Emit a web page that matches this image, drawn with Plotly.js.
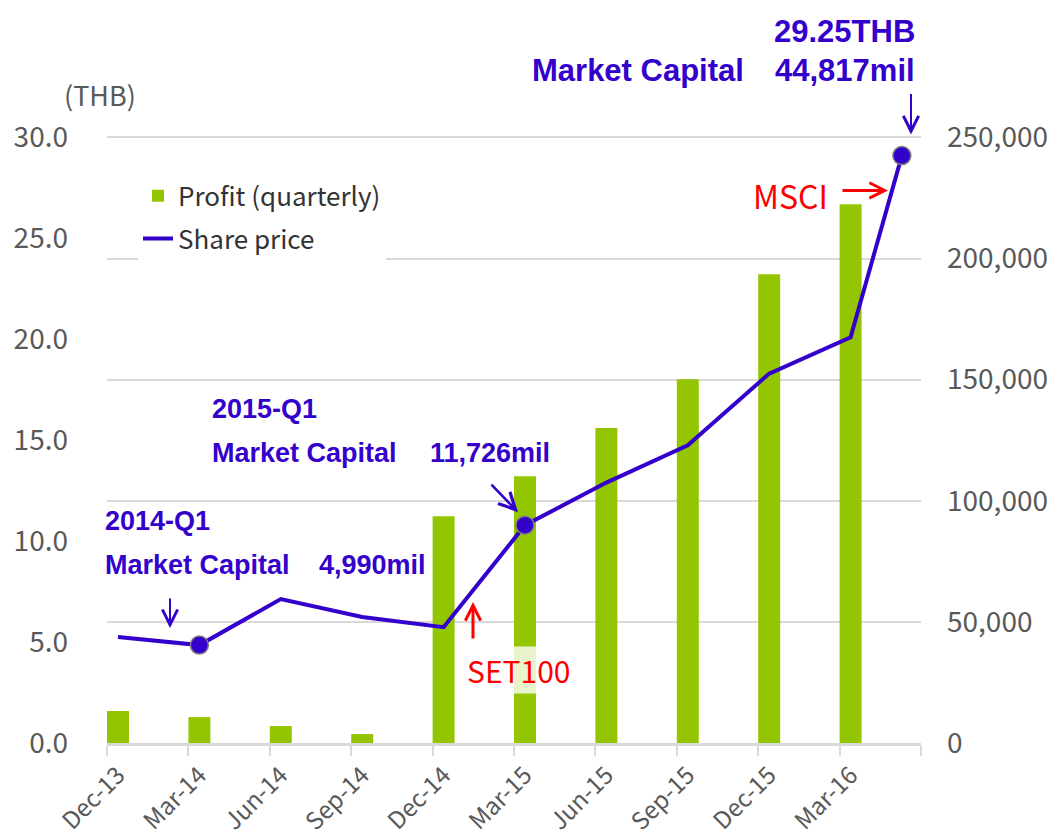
<!DOCTYPE html>
<html>
<head>
<meta charset="utf-8">
<script src="https://cdn.plot.ly/plotly-3.0.1.min.js"></script>
<style>html,body{margin:0;padding:0;background:#fff;}#chart{width:1052px;height:837px;}</style>
</head>
<body>
<div id="chart"></div>
<script>
// ---- data ----
const categories = ['Dec-13','Mar-14','Jun-14','Sep-14','Dec-14','Mar-15','Jun-15','Sep-15','Dec-15','Mar-16'];
const profit = [13200, 10700, 7000, 3700, 93600, 110100, 130000, 150200, 193500, 222400];
// share price observations; last one falls between Mar-16 and Jun-16
const priceX = [0, 1, 2, 3, 4, 5, 6, 7, 8, 9, 9.63];
const price = [5.25, 4.85, 7.13, 6.24, 5.74, 10.79, 12.9, 14.75, 18.3, 20.1, 29.1];
const highlighted = [1, 5, 10];
const leftTicks = [0, 5, 10, 15, 20, 25, 30];
const rightTicks = [0, 50000, 100000, 150000, 200000, 250000];

// ---- geometry helpers (pixel -> paper) ----
const L = 107, R = 921, T0 = 137, B = 743, W = R - L;
const EXT = 1.004;                       // small head-room so the top gridline is drawn
const H = (B - T0) * EXT, T = B - H;
const X = p => (p - L) / W;
const Y = p => (B - p) / H;

const BLUE = '#3300cc', GREEN = '#93c500', RED = '#ff0000', GRAY = '#595959';
const tickFont = {family: 'Noto Sans CJK KR, Noto Sans, sans-serif', size: 28, color: GRAY};
const xTickFont = {family: 'Noto Sans CJK KR, Noto Sans, sans-serif', size: 24, color: GRAY};
const boldFont = s => ({family: 'Liberation Sans, Arial, sans-serif', size: s, color: BLUE, weight: 'bold'});
const redFont = s => ({family: 'Noto Sans CJK KR, Noto Sans, sans-serif', size: s, color: RED});

const catIdx = categories.map((c, i) => i);

const traces = [
  {type: 'bar', x: catIdx, y: profit, width: 0.27, marker: {color: GREEN},
   name: 'Profit (quarterly)', yaxis: 'y', legendgroup: 'a', hoverinfo: 'skip'},
  {type: 'scatter', mode: 'lines', x: priceX, y: price, yaxis: 'y2',
   line: {color: BLUE, width: 4}, name: 'Share price', legendgroup: 'b', hoverinfo: 'skip'},
  {type: 'scatter', mode: 'markers', x: highlighted.map(i => priceX[i]), y: highlighted.map(i => price[i]),
   yaxis: 'y2', marker: {color: BLUE, size: 18, line: {color: '#7f7f7f', width: 1.5}},
   showlegend: false, hoverinfo: 'skip'}
];

function txt(text, x, y, anchor, font, extra) {
  return Object.assign({text: text, xref: 'paper', yref: 'paper', x: X(x), y: Y(y),
    xanchor: anchor, yanchor: 'middle', showarrow: false, font: font}, extra || {});
}
function arrow(hx, hy, ax, ay, color, width, size) {
  return {text: '', xref: 'paper', yref: 'paper', x: X(hx), y: Y(hy), ax: ax, ay: ay,
    showarrow: true, arrowhead: 5, arrowsize: size, arrowwidth: width, arrowcolor: color, standoff: 0, startstandoff: 0};
}

const annotations = [
  txt('(THB)', 62, 94, 'left', {family: 'Noto Sans CJK KR, Noto Sans, sans-serif', size: 27, color: GRAY}),
  txt('29.25THB', 917, 31, 'right', boldFont(31)),
  txt('Market Capital', 530, 70, 'left', boldFont(31)),
  txt('44,817mil', 917, 70, 'right', boldFont(31)),
  txt('2015-Q1', 210, 409, 'left', boldFont(27)),
  txt('Market Capital', 210, 453, 'left', boldFont(27)),
  txt('11,726mil', 428, 453, 'left', boldFont(27)),
  txt('2014-Q1', 103, 521, 'left', boldFont(27)),
  txt('Market Capital', 103, 565, 'left', boldFont(27)),
  txt('4,990mil', 317, 565, 'left', boldFont(27)),
  txt('SET100', 465, 670, 'left', redFont(30), {bgcolor: 'rgba(255,255,255,0.8)'}),
  txt('MSCI', 751, 195, 'left', redFont(32)),
  arrow(911, 134, 0, -42, BLUE, 2, 1.5),
  arrow(170, 628, 0, -31, BLUE, 2, 1.5),
  arrow(518, 512, -28, -29, BLUE, 2.5, 1.3),
  arrow(473, 602, 0, 38, RED, 3, 1),
  arrow(888, 190, -47, 0, RED, 3, 1)
];

const layout = {
  width: 1052, height: 837,
  margin: {l: L, r: 1052 - R, t: T, b: 837 - B, pad: 0},
  paper_bgcolor: '#fff', plot_bgcolor: '#fff',
  showlegend: true,
  legend: {x: X(138), y: Y(172), xanchor: 'left', yanchor: 'top', bgcolor: '#fff',
    font: {family: 'Noto Sans CJK KR, Noto Sans, sans-serif', size: 26, color: '#333'},
    tracegroupgap: 6, traceorder: 'grouped'},
  xaxis: {range: [-0.135, 9.865], tickmode: 'array', tickvals: catIdx, ticktext: categories,
    tickangle: -45, ticks: '', tickfont: xTickFont, showgrid: false, zeroline: false,
    showline: true, linecolor: '#d9d9d9', linewidth: 2.5, ticklabelstandoff: 6,
    minor: {tickmode: 'array', tickvals: categories.concat(['']).map((c, i) => i - 0.135),
      ticks: 'outside', ticklen: 10, tickcolor: '#d9d9d9', tickwidth: 2, showgrid: false}},
  yaxis: {side: 'right', range: [0, 250000 * EXT], tickmode: 'array', tickvals: rightTicks,
    tickformat: ',d', tickfont: tickFont, ticks: '', showgrid: true, gridcolor: '#d9d9d9', gridwidth: 2,
    zeroline: false, showline: false, ticklabelstandoff: 25},
  yaxis2: {side: 'left', overlaying: 'y', range: [0, 30 * EXT], tickmode: 'array', tickvals: leftTicks,
    tickformat: '.1f', tickfont: tickFont, ticks: '', showgrid: false, zeroline: false,
    showline: false, ticklabelstandoff: 38},
  annotations: annotations
};

Plotly.newPlot('chart', traces, layout, {staticPlot: true, displayModeBar: false});
</script>
</body>
</html>
